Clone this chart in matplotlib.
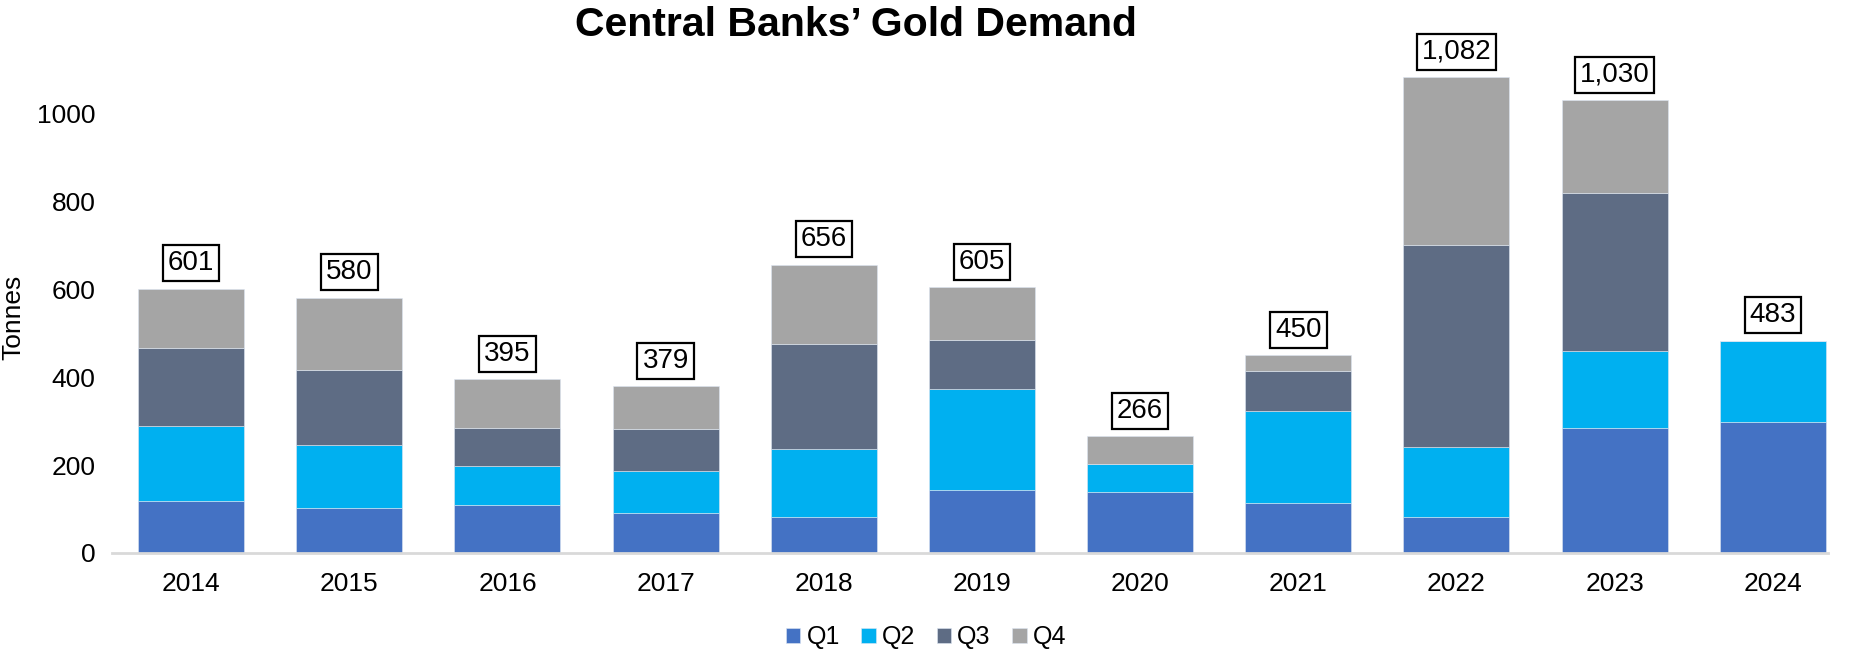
import numpy as np
import matplotlib
matplotlib.use("Agg")
import matplotlib.pyplot as plt

plt.rcParams['font.family'] = ['Liberation Sans', 'DejaVu Sans']

## Central banks' gold demand by quarter (tonnes)

years = ["2014", "2015", "2016", "2017", "2018", "2019", "2020", "2021", "2022", "2023", "2024"]
q1 = [118, 102, 109, 90, 82, 144, 138, 114, 81, 285, 298]
q2 = [171, 143, 88, 97, 154, 229, 64, 210, 160, 174, 185]
q3 = [178, 172, 88, 96, 240, 112, 0, 91, 459, 360, 0]
q4 = [134, 163, 110, 96, 180, 120, 64, 35, 382, 211, 0]
totals = [601, 580, 395, 379, 656, 605, 266, 450, 1082, 1030, 483]

series = ["Q1", "Q2", "Q3", "Q4"]
colors = ["#4472C4", "#00B0F0", "#5E6C84", "#A5A5A5"]

fig = plt.figure(figsize=(18.52, 6.49), dpi=100)
ax = fig.add_axes([0.0605, 0.148, 0.9266, 0.806])

x = np.arange(len(years))
bottom = np.zeros(len(years))
for name, vals, c in zip(series, [q1, q2, q3, q4], colors):
    vals = np.array(vals)
    ax.bar(x, vals, width=0.67, bottom=bottom, color=c, label=name,
           edgecolor="#dde6f2", linewidth=0.4)
    bottom += vals

# total labels in boxes above each bar
for xi, t in zip(x, totals):
    ax.annotate("{:,}".format(t), xy=(xi, t), xytext=(0, 9), textcoords="offset points",
                ha="center", va="bottom", fontsize=20,
                bbox=dict(boxstyle="square,pad=0.18", fc="white", ec="black", lw=1.6))

ax.set_xlim(-0.5, 10.35)
ax.set_ylim(0, 1190)
ax.set_xticks(x)
ax.set_xticklabels(years, fontsize=19)
ax.set_yticks([0, 200, 400, 600, 800, 1000])
ax.tick_params(axis="y", labelsize=19, length=0, pad=12)
ax.tick_params(axis="x", length=0, pad=14)
for s in ["top", "right", "left"]:
    ax.spines[s].set_visible(False)
ax.spines["bottom"].set_color("#d9d9d9")
ax.spines["bottom"].set_linewidth(2)

ax.set_ylabel("Tonnes", fontsize=19)
ax.yaxis.set_label_coords(-0.0505, 0.45)
fig.suptitle("Central Banks’ Gold Demand", fontsize=29.5, fontweight="bold", x=0.462, y=0.99)

fig.legend(loc="lower center", ncol=4, frameon=False, fontsize=18,
           bbox_to_anchor=(0.5, -0.035), handlelength=0.58, handleheight=0.58,
           handletextpad=0.25, columnspacing=0.85)

fig.savefig("out.png", dpi=100)
